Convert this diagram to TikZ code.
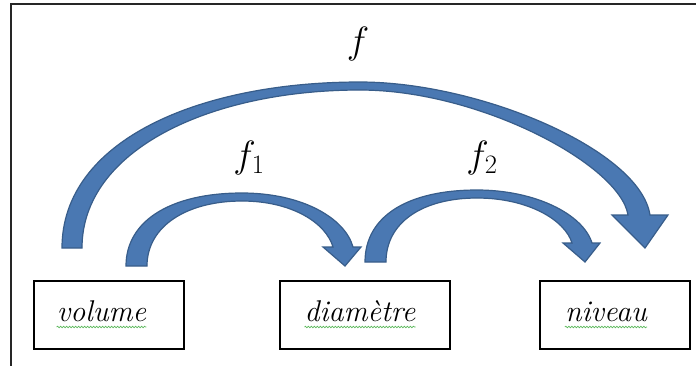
\RequirePackage{fix-cm}
\documentclass[tikz,border=0pt]{standalone}
\usepackage{fontspec}
\usepackage{tikz}
\usetikzlibrary{calc,decorations.pathmorphing}
\definecolor{mapfill}{HTML}{4A78B2}
\definecolor{mapline}{HTML}{385D8A}
\definecolor{squiggreen}{HTML}{5CB85C}
\tikzset{
  qbox/.style      = {draw=black, line width=2pt, minimum width=150pt,
                      minimum height=68pt, inner sep=0pt},
  qword/.style     = {font=\fontsize{30}{34}\selectfont\itshape, inner sep=0pt,
                      anchor=base},
  fname/.style     = {font=\fontsize{38}{42}\selectfont, inner sep=0pt},
  squig/.style     = {draw=squiggreen, line width=0.7pt, decorate,
                      decoration={snake, amplitude=0.8pt, segment length=3pt}},
  frameline/.style = {draw=black!85, line width=2pt},
  ribbon/.style    = {fill=mapfill, draw=mapline, line width=1.2pt,
                      line join=miter},
}

\begin{document}
\begin{tikzpicture}[x=1pt, y=-1pt]

  \useasboundingbox (0,0) rectangle (696,365);
  \draw[frameline] (11,366) -- (11,4) -- (697,4);

  \node[qbox] (vol) at (108.5,315) {};
  \node[qbox, minimum width=170pt] (diam) at (365,315) {};
  \node[qbox] (niv) at (615,315) {};

  \node[qword] (volw)  at (101.5,321) {volume};
  \node[qword] (diamw) at (360,321) {diamètre};
  \node[qword] (nivw)  at (606,321) {niveau};

  % spell-check squiggles under the words
  \foreach \w in {volw,diamw,nivw}
    \draw[squig] ($(\w.base west)+(0,6)$) -- ($(\w.base east)+(0,6)$);

  % ribbon ends above the boxes
  \coordinate (f1s)  at ($(vol.north)+(17.5,-14)$);
  \coordinate (f1e)  at ($(diam.north)+(-20,-14)$);
  \coordinate (f2s)  at ($(diam.north)+(0,-18)$);
  \coordinate (f2e)  at ($(niv.north)+(-30,-18)$);
  \coordinate (fs)   at ($(vol.north)+(-46.5,-32)$);
  \coordinate (fe)   at ($(niv.north)+(30,-32)$);

  % f1 : volume -> diamètre
  \draw[ribbon] (f1s) .. controls +(0,-46) and +(-70,0) .. (242,193)
      .. controls +(60,0) and +(-8,-29) .. (353,247) -- (361,247) -- (f1e)
      -- (323,247) -- (333,247) .. controls +(-7,-24) and +(50,0) .. (242,201)
      .. controls +(-55,0) and +(0,-40) .. ($(f1s)+(21,0)$) -- cycle;

  % f2 : diamètre -> niveau
  \draw[ribbon] (f2s) .. controls +(0,-46) and +(-69,0) .. (477,190)
      .. controls +(58,0) and +(-9,-29) .. (592,243) -- (600,243) -- (f2e)
      -- (563,243) -- (572,243) .. controls +(-7,-23) and +(51,0) .. (477,198)
      .. controls +(-54,0) and +(0,-40) .. ($(f2s)+(21,0)$) -- cycle;

  % f : volume -> niveau
  \draw[ribbon] (fs) .. controls +(0,-108) and +(-160,0) .. (360,82)
      .. controls +(120,0) and +(-10,-65) .. (650,215) -- (668,215) -- (fe)
      -- (612,215) -- (628,215) .. controls +(-8,-50) and +(120,0) .. (360,90)
      .. controls +(-150,0) and +(0,-98) .. ($(fs)+(20,0)$) -- cycle;

  \node[fname] (fl)  at (358,44)  {$f$};
  \node[fname] (f1l) at (249,158) {$f_1$};
  \node[fname] (f2l) at (482,158) {$f_2$};

\end{tikzpicture}
\end{document}
